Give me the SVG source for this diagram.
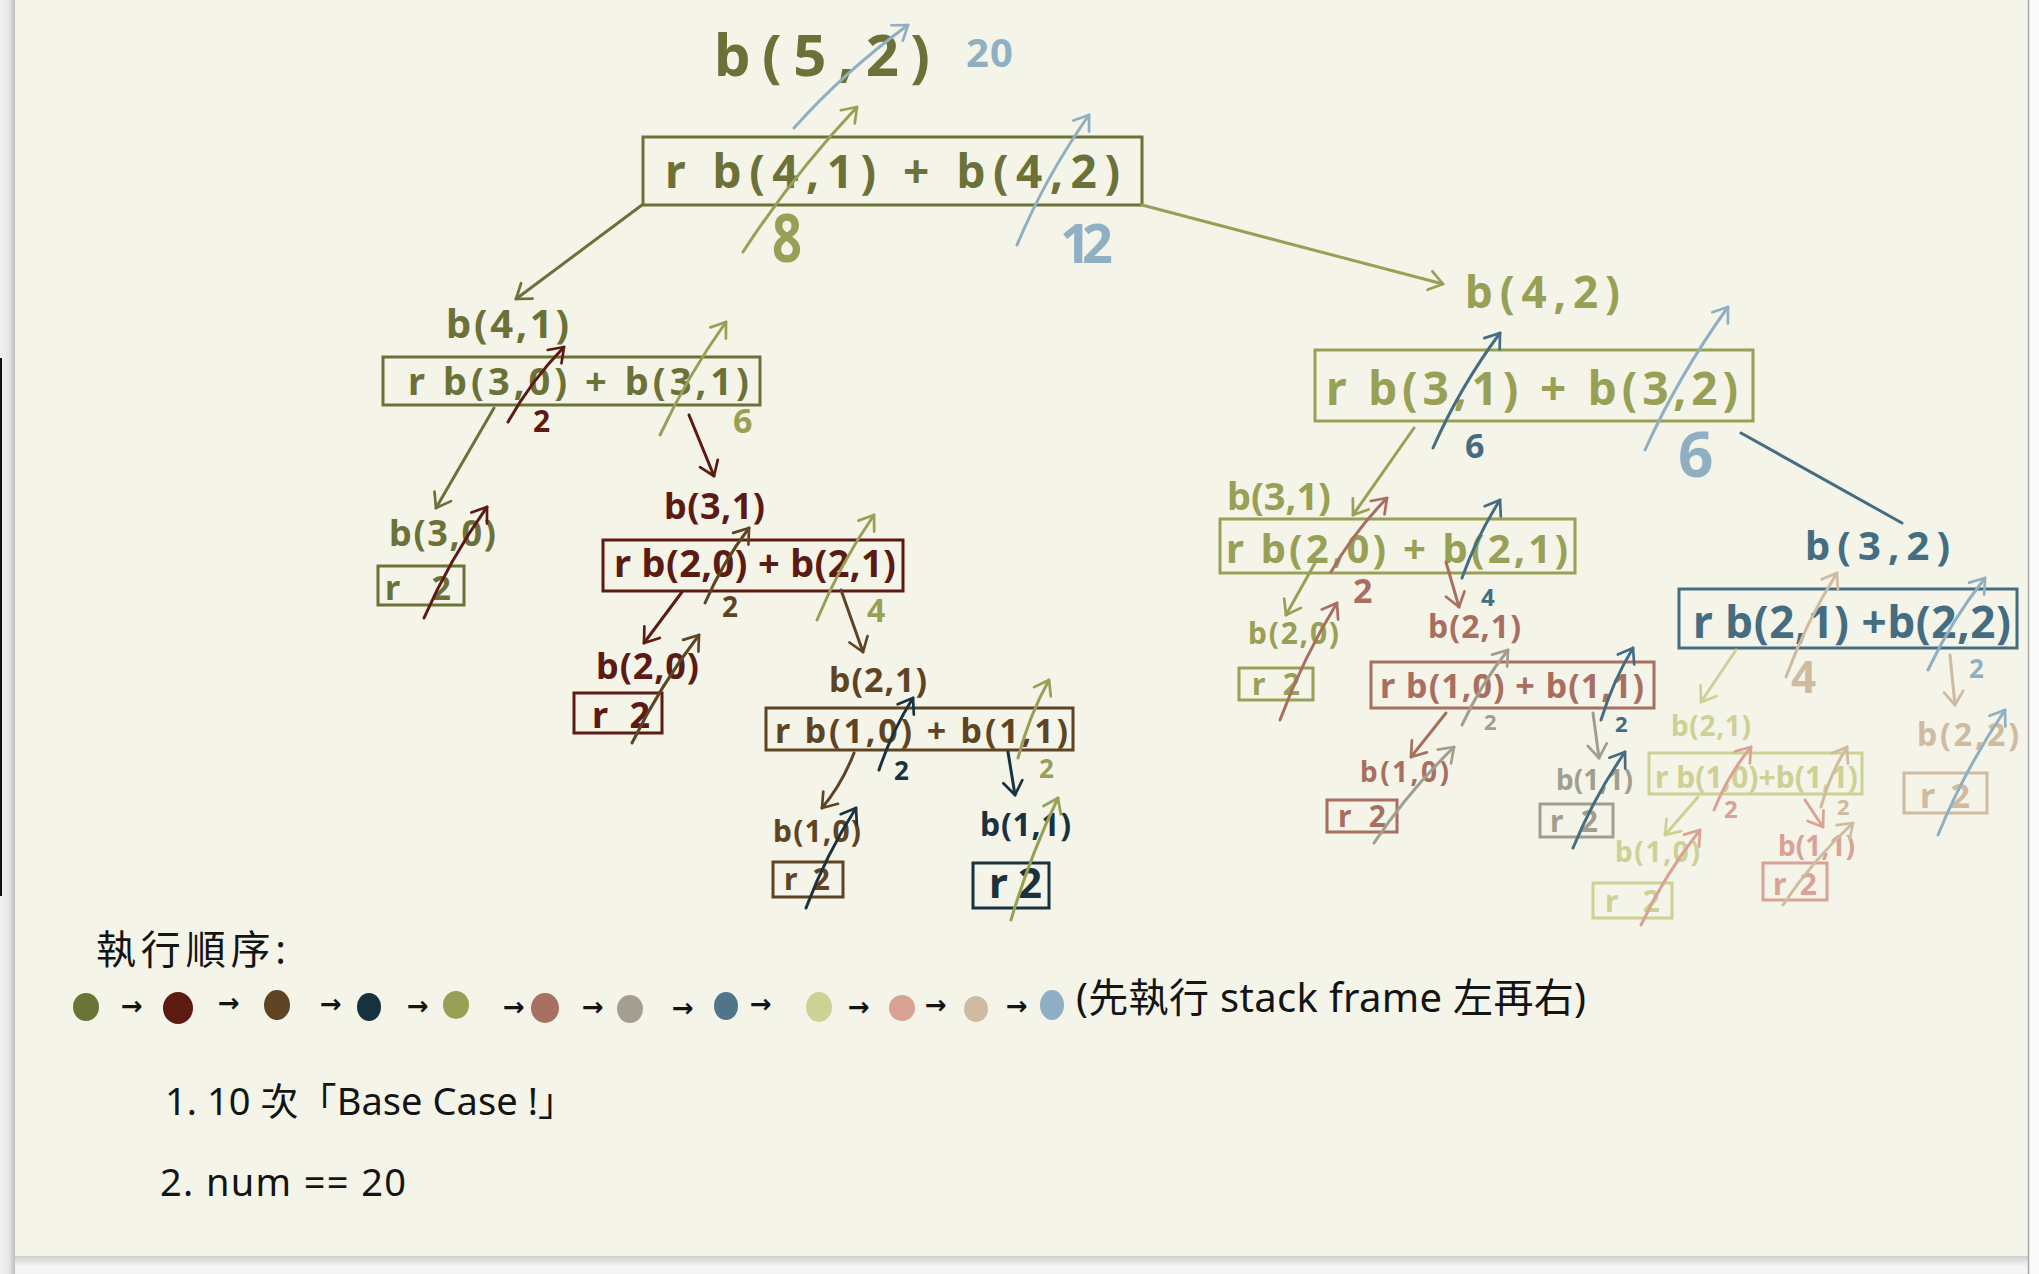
<svg xmlns="http://www.w3.org/2000/svg" width="2039" height="1274" viewBox="0 0 2039 1274">
<defs>
<linearGradient id="lshadow" x1="0" y1="0" x2="1" y2="0">
<stop offset="0" stop-color="#f2f2f2"/><stop offset="0.6" stop-color="#e6e6e6"/><stop offset="1" stop-color="#bdbdbd"/>
</linearGradient>
<linearGradient id="bshadow" x1="0" y1="0" x2="0" y2="1">
<stop offset="0" stop-color="#cfcfcf"/><stop offset="1" stop-color="#f4f4f4"/>
</linearGradient>
<marker id="m1" viewBox="-6 -5 7 10" markerWidth="7" markerHeight="10" refX="0" refY="0" orient="auto" markerUnits="strokeWidth" overflow="visible"><path d="M-4.5,-3.2 L0,0 L-4.5,3.2" fill="none" stroke="#6b7137" stroke-width="0.9" stroke-linecap="round" stroke-linejoin="round"/></marker>
<marker id="m2" viewBox="-6 -5 7 10" markerWidth="7" markerHeight="10" refX="0" refY="0" orient="auto" markerUnits="strokeWidth" overflow="visible"><path d="M-4.5,-3.2 L0,0 L-4.5,3.2" fill="none" stroke="#5c1b12" stroke-width="0.9" stroke-linecap="round" stroke-linejoin="round"/></marker>
<marker id="m3" viewBox="-6 -5 7 10" markerWidth="7" markerHeight="10" refX="0" refY="0" orient="auto" markerUnits="strokeWidth" overflow="visible"><path d="M-4.5,-3.2 L0,0 L-4.5,3.2" fill="none" stroke="#5f4424" stroke-width="0.9" stroke-linecap="round" stroke-linejoin="round"/></marker>
<marker id="m4" viewBox="-6 -5 7 10" markerWidth="7" markerHeight="10" refX="0" refY="0" orient="auto" markerUnits="strokeWidth" overflow="visible"><path d="M-4.5,-3.2 L0,0 L-4.5,3.2" fill="none" stroke="#19323e" stroke-width="0.9" stroke-linecap="round" stroke-linejoin="round"/></marker>
<marker id="m5" viewBox="-6 -5 7 10" markerWidth="7" markerHeight="10" refX="0" refY="0" orient="auto" markerUnits="strokeWidth" overflow="visible"><path d="M-4.5,-3.2 L0,0 L-4.5,3.2" fill="none" stroke="#98a055" stroke-width="0.9" stroke-linecap="round" stroke-linejoin="round"/></marker>
<marker id="m6" viewBox="-6 -5 7 10" markerWidth="7" markerHeight="10" refX="0" refY="0" orient="auto" markerUnits="strokeWidth" overflow="visible"><path d="M-4.5,-3.2 L0,0 L-4.5,3.2" fill="none" stroke="#a86f60" stroke-width="0.9" stroke-linecap="round" stroke-linejoin="round"/></marker>
<marker id="m7" viewBox="-6 -5 7 10" markerWidth="7" markerHeight="10" refX="0" refY="0" orient="auto" markerUnits="strokeWidth" overflow="visible"><path d="M-4.5,-3.2 L0,0 L-4.5,3.2" fill="none" stroke="#a29e8e" stroke-width="0.9" stroke-linecap="round" stroke-linejoin="round"/></marker>
<marker id="m8" viewBox="-6 -5 7 10" markerWidth="7" markerHeight="10" refX="0" refY="0" orient="auto" markerUnits="strokeWidth" overflow="visible"><path d="M-4.5,-3.2 L0,0 L-4.5,3.2" fill="none" stroke="#456d82" stroke-width="0.9" stroke-linecap="round" stroke-linejoin="round"/></marker>
<marker id="m9" viewBox="-6 -5 7 10" markerWidth="7" markerHeight="10" refX="0" refY="0" orient="auto" markerUnits="strokeWidth" overflow="visible"><path d="M-4.5,-3.2 L0,0 L-4.5,3.2" fill="none" stroke="#cdd194" stroke-width="0.9" stroke-linecap="round" stroke-linejoin="round"/></marker>
<marker id="m10" viewBox="-6 -5 7 10" markerWidth="7" markerHeight="10" refX="0" refY="0" orient="auto" markerUnits="strokeWidth" overflow="visible"><path d="M-4.5,-3.2 L0,0 L-4.5,3.2" fill="none" stroke="#d9a294" stroke-width="0.9" stroke-linecap="round" stroke-linejoin="round"/></marker>
<marker id="m11" viewBox="-6 -5 7 10" markerWidth="7" markerHeight="10" refX="0" refY="0" orient="auto" markerUnits="strokeWidth" overflow="visible"><path d="M-4.5,-3.2 L0,0 L-4.5,3.2" fill="none" stroke="#cebba0" stroke-width="0.9" stroke-linecap="round" stroke-linejoin="round"/></marker>
<marker id="m12" viewBox="-6 -5 7 10" markerWidth="7" markerHeight="10" refX="0" refY="0" orient="auto" markerUnits="strokeWidth" overflow="visible"><path d="M-4.5,-3.2 L0,0 L-4.5,3.2" fill="none" stroke="#8fb0c3" stroke-width="0.9" stroke-linecap="round" stroke-linejoin="round"/></marker>
</defs>
<style>
text{font-family:"Noto Sans","Noto Sans CJK TC",sans-serif;font-weight:700}
rect.b{fill:none;stroke-width:3}
#connectors path{fill:none;stroke-linecap:round;stroke-width:3}
.g1 text{fill:#6b7137}.g1 rect{stroke:#6b7137}
.g2 text{fill:#5c1b12}.g2 rect{stroke:#5c1b12}
.g3 text{fill:#5f4424}.g3 rect{stroke:#5f4424}
.g4 text{fill:#19323e}.g4 rect{stroke:#19323e}
.g5 text{fill:#98a055}.g5 rect{stroke:#98a055}
.g6 text{fill:#a86f60}.g6 rect{stroke:#a86f60}
.g7 text{fill:#a29e8e}.g7 rect{stroke:#a29e8e}
.g8 text{fill:#456d82}.g8 rect{stroke:#456d82}
.g9 text{fill:#cdd194}.g9 rect{stroke:#cdd194}
.g10 text{fill:#d9a294}.g10 rect{stroke:#d9a294}
.g11 text{fill:#cebba0}.g11 rect{stroke:#cebba0}
.g12 text{fill:#8fb0c3}.g12 rect{stroke:#8fb0c3}
.e1{stroke:#6b7137;marker-end:url(#m1)}
.e2{stroke:#5c1b12;marker-end:url(#m2)}
.e3{stroke:#5f4424;marker-end:url(#m3)}
.e4{stroke:#19323e;marker-end:url(#m4)}
.e5{stroke:#98a055;marker-end:url(#m5)}
.e6{stroke:#a86f60;marker-end:url(#m6)}
.e7{stroke:#a29e8e;marker-end:url(#m7)}
.e8{stroke:#456d82;marker-end:url(#m8)}
.e9{stroke:#cdd194;marker-end:url(#m9)}
.e10{stroke:#d9a294;marker-end:url(#m10)}
.e11{stroke:#cebba0;marker-end:url(#m11)}
.e12{stroke:#8fb0c3;marker-end:url(#m12)}
.v1{fill:#6b7137}.v2{fill:#5c1b12}.v3{fill:#5f4424}.v4{fill:#19323e}.v5{fill:#98a055}.v6{fill:#a86f60}
.v7{fill:#a29e8e}.v8{fill:#456d82}.v9{fill:#cdd194}.v10{fill:#d9a294}.v11{fill:#cebba0}.v12{fill:#8fb0c3}
#legend text{fill:#141414;font-weight:400}
#legend .ar{font-family:"DejaVu Sans",sans-serif;font-size:26px;font-weight:700}
</style>

<!-- page -->
<rect x="0" y="0" width="2039" height="1274" fill="#f5f5f5"/>
<rect x="0" y="0" width="15" height="1274" fill="url(#lshadow)"/>
<rect x="15" y="1256" width="2013" height="10" fill="url(#bshadow)"/>
<rect x="15" y="0" width="2013" height="1256" fill="#f4f4e9"/>
<rect x="2028" y="0" width="11" height="1274" fill="#f9f9f9"/>
<line x1="2028.5" y1="0" x2="2028.5" y2="1274" stroke="#a9a9a9" stroke-width="1.5"/>
<rect x="0" y="358" width="2" height="538" fill="#111"/>

<!-- nodes -->
<g id="node-b52" class="g1">
<text x="714" y="76" font-size="58" textLength="216" lengthAdjust="spacing">b(5,2)</text>
<rect class="b" x="643" y="137" width="499" height="68" stroke-width="4"/>
<text x="665" y="188" font-size="46" textLength="455" lengthAdjust="spacing">r b(4,1) + b(4,2)</text>
</g>
<g id="node-b41" class="g1">
<text x="446" y="338" font-size="40" textLength="123" lengthAdjust="spacing">b(4,1)</text>
<rect class="b" x="383" y="357" width="377" height="48"/>
<text x="408" y="395" font-size="38" textLength="341" lengthAdjust="spacing">r b(3,0) + b(3,1)</text>
</g>
<g id="node-b30" class="g1">
<text x="389" y="546" font-size="36" textLength="107" lengthAdjust="spacing">b(3,0)</text>
<rect class="b" x="378" y="566" width="86" height="39"/>
<text x="385" y="600" font-size="34" textLength="66" lengthAdjust="spacing">r 2</text>
</g>
<g id="node-b31-left" class="g2">
<text x="664" y="519" font-size="36" textLength="101" lengthAdjust="spacing">b(3,1)</text>
<rect class="b" x="603" y="540" width="300" height="51"/>
<text x="614" y="577" font-size="38" textLength="282" lengthAdjust="spacing">r b(2,0) + b(2,1)</text>
</g>
<g id="node-b20-left" class="g2">
<text x="596" y="679" font-size="36" textLength="103" lengthAdjust="spacing">b(2,0)</text>
<rect class="b" x="574" y="693" width="88" height="40"/>
<text x="592" y="728" font-size="36" textLength="58" lengthAdjust="spacing">r 2</text>
</g>
<g id="node-b21-left" class="g3">
<text x="829" y="692" font-size="34" textLength="98" lengthAdjust="spacing">b(2,1)</text>
<rect class="b" x="766" y="708" width="307" height="42"/>
<text x="775" y="743" font-size="34" textLength="293" lengthAdjust="spacing">r b(1,0) + b(1,1)</text>
</g>
<g id="node-b10-left" class="g3">
<text x="773" y="842" font-size="30" textLength="88" lengthAdjust="spacing">b(1,0)</text>
<rect class="b" x="773" y="862" width="70" height="35"/>
<text x="784" y="890" font-size="30" textLength="46" lengthAdjust="spacing">r2</text>
</g>
<g id="node-b11-left" class="g4">
<text x="980" y="836" font-size="32" textLength="91" lengthAdjust="spacing">b(1,1)</text>
<rect class="b" x="973" y="863" width="76" height="45" stroke-width="4"/>
<text x="989" y="898" font-size="42" textLength="53" lengthAdjust="spacing">r2</text>
</g>
<g id="node-b42" class="g5">
<text x="1465" y="308" font-size="44" textLength="155" lengthAdjust="spacing">b(4,2)</text>
<rect class="b" x="1315" y="350" width="438" height="71"/>
<text x="1326" y="405" font-size="46" textLength="412" lengthAdjust="spacing">r b(3,1) + b(3,2)</text>
</g>
<g id="node-b31-right" class="g5">
<text x="1227" y="510" font-size="38" textLength="104" lengthAdjust="spacing">b(3,1)</text>
<rect class="b" x="1220" y="519" width="355" height="54"/>
<text x="1226" y="563" font-size="40" textLength="342" lengthAdjust="spacing">r b(2,0) + b(2,1)</text>
</g>
<g id="node-b20-right" class="g5">
<text x="1248" y="644" font-size="30" textLength="91" lengthAdjust="spacing">b(2,0)</text>
<rect class="b" x="1239" y="668" width="74" height="32"/>
<text x="1252" y="695" font-size="30" textLength="48" lengthAdjust="spacing">r 2</text>
</g>
<g id="node-b21-mid" class="g6">
<text x="1428" y="638" font-size="32" textLength="93" lengthAdjust="spacing">b(2,1)</text>
<rect class="b" x="1371" y="662" width="283" height="46"/>
<text x="1380" y="698" font-size="34" textLength="264" lengthAdjust="spacing">r b(1,0) + b(1,1)</text>
</g>
<g id="node-b10-mid" class="g6">
<text x="1360" y="782" font-size="28" textLength="89" lengthAdjust="spacing">b(1,0)</text>
<rect class="b" x="1327" y="800" width="70" height="32"/>
<text x="1338" y="827" font-size="30" textLength="48" lengthAdjust="spacing">r 2</text>
</g>
<g id="node-b11-mid" class="g7">
<text x="1556" y="790" font-size="28" textLength="77" lengthAdjust="spacing">b(1,1)</text>
<rect class="b" x="1540" y="804" width="73" height="33"/>
<text x="1550" y="832" font-size="30" textLength="48" lengthAdjust="spacing">r2</text>
</g>
<g id="node-b32" class="g8">
<text x="1805" y="560" font-size="40" textLength="145" lengthAdjust="spacing">b(3,2)</text>
<rect class="b" x="1679" y="589" width="338" height="59" stroke-width="5"/>
<text x="1693" y="638" font-size="44" textLength="318" lengthAdjust="spacing">r b(2,1) +b(2,2)</text>
</g>
<g id="node-b21-right" class="g9">
<text x="1671" y="736" font-size="28" textLength="80" lengthAdjust="spacing">b(2,1)</text>
<rect class="b" x="1649" y="753" width="213" height="41"/>
<text x="1655" y="788" font-size="30" textLength="203" lengthAdjust="spacing">r b(1,0)+b(1,1)</text>
</g>
<g id="node-b10-right" class="g9">
<text x="1615" y="862" font-size="28" textLength="85" lengthAdjust="spacing">b(1,0)</text>
<rect class="b" x="1593" y="883" width="79" height="35"/>
<text x="1605" y="912" font-size="30" textLength="55" lengthAdjust="spacing">r 2</text>
</g>
<g id="node-b11-right" class="g10">
<text x="1778" y="856" font-size="28" textLength="77" lengthAdjust="spacing">b(1,1)</text>
<rect class="b" x="1763" y="863" width="64" height="37"/>
<text x="1773" y="895" font-size="30" textLength="44" lengthAdjust="spacing">r2</text>
</g>
<g id="node-b22" class="g11">
<text x="1917" y="746" font-size="32" textLength="102" lengthAdjust="spacing">b(2,2)</text>
<rect class="b" x="1904" y="773" width="83" height="40"/>
<text x="1920" y="808" font-size="34" textLength="50" lengthAdjust="spacing">r2</text>
</g>

<!-- connectors: calls and returns -->
<g id="connectors">
<path class="e1" d="M642,205 L516,299"/>
<path class="e5" d="M1142,205 L1443,284" stroke-width="3.5"/>
<path class="e1" d="M494,408 L436,508"/>
<path class="e2" d="M689,415 L714,476"/>
<path class="e2" d="M682,592 L644,643"/>
<path class="e3" d="M841,590 L863,652"/>
<path class="e3" d="M854,753 Q842,784 822,808" stroke-width="3.5"/>
<path class="e4" d="M1008,752 L1015,795"/>
<path class="e5" d="M1414,428 L1353,515"/>
<path d="M1741,433 L1902,523" stroke="#456d82" stroke-width="4"/>
<path class="e5" d="M1315,563 L1286,615"/>
<path class="e6" d="M1446,562 L1459,607"/>
<path class="e6" d="M1446,713 L1411,757"/>
<path class="e7" d="M1593,713 L1599,758"/>
<path class="e9" d="M1736,650 L1701,702"/>
<path class="e11" d="M1950,655 L1955,705" stroke-width="4"/>
<path class="e9" d="M1698,797 L1665,835"/>
<path class="e10" d="M1805,800 L1823,827"/>

<path class="e12" d="M794,128 Q844,72 908,25" stroke-width="4"/>
<path class="e5" d="M743,252 Q793,175 857,107" stroke-width="4"/>
<path class="e12" d="M1017,245 Q1046,176 1089,115" stroke-width="4"/>
<path class="e2" d="M508,422 Q531,381 564,347"/>
<path class="e5" d="M660,435 Q688,375 726,322"/>
<path class="e2" d="M424,618 Q450,559 487,507"/>
<path class="e3" d="M705,603 Q723,562 749,528"/>
<path class="e5" d="M817,620 Q840,564 874,515"/>
<path class="e3" d="M632,743 Q660,686 699,635"/>
<path class="e4" d="M879,770 Q892,731 913,698" stroke-width="3.5"/>
<path class="e5" d="M1018,758 Q1029,716 1049,680"/>
<path class="e4" d="M806,908 Q826,855 856,808" stroke-width="3.5"/>
<path class="e5" d="M1011,920 Q1030,856 1058,798"/>
<path class="e8" d="M1433,448 Q1460,387 1500,333" stroke-width="5"/>
<path class="e12" d="M1645,450 Q1679,375 1728,307" stroke-width="4"/>
<path class="e6" d="M1331,572 Q1354,532 1387,498"/>
<path class="e8" d="M1462,578 Q1477,536 1500,500"/>
<path class="e6" d="M1280,720 Q1303,658 1337,603"/>
<path class="e7" d="M1462,725 Q1481,684 1508,650" stroke-width="2.5"/>
<path class="e8" d="M1601,720 Q1613,681 1633,648" stroke-width="3.5"/>
<path class="e7" d="M1374,843 Q1408,792 1454,747" stroke-width="2.5"/>
<path class="e8" d="M1573,848 Q1594,797 1625,752" stroke-width="3.5"/>
<path class="e11" d="M1786,677 Q1806,622 1837,573" stroke-width="4"/>
<path class="e12" d="M1928,670 Q1951,621 1985,578" stroke-width="3.5"/>
<path class="e10" d="M1714,810 Q1728,775 1751,747"/>
<path class="e11" d="M1821,807 Q1830,774 1847,747" stroke-width="2.5"/>
<path class="e10" d="M1641,925 Q1665,874 1700,830"/>
<path class="e11" d="M1783,905 Q1812,861 1853,823" stroke-width="2.5"/>
<path class="e12" d="M1938,835 Q1965,769 2005,710" stroke-width="4"/>
</g>

<!-- return values -->
<g id="return-values">
<text class="v12" x="966" y="67" font-size="40" textLength="47" lengthAdjust="spacing">20</text>
<text class="v5" x="772" y="262" font-size="66" textLength="30" lengthAdjust="spacingAndGlyphs">8</text>
<text class="v12" x="1060" y="263" font-size="54" textLength="53" lengthAdjust="spacing">12</text>
<text class="v2" x="533" y="432" font-size="30">2</text>
<text class="v5" x="733" y="433" font-size="34">6</text>
<text class="v3" x="722" y="617" font-size="28">2</text>
<text class="v5" x="867" y="622" font-size="32">4</text>
<text class="v4" x="894" y="780" font-size="26">2</text>
<text class="v5" x="1039" y="778" font-size="26">2</text>
<text class="v8" x="1465" y="458" font-size="34" font-weight="400">6</text>
<text class="v12" x="1678" y="477" font-size="62">6</text>
<text class="v6" x="1353" y="603" font-size="34">2</text>
<text class="v8" x="1481" y="606" font-size="24">4</text>
<text class="v7" x="1484" y="730" font-size="22">2</text>
<text class="v8" x="1615" y="732" font-size="22">2</text>
<text class="v11" x="1791" y="693" font-size="44">4</text>
<text class="v12" x="1969" y="678" font-size="26">2</text>
<text class="v10" x="1724" y="818" font-size="24">2</text>
<text class="v11" x="1837" y="815" font-size="22">2</text>
</g>

<!-- legend -->
<g id="legend">
<text x="96" y="964" font-size="40" textLength="190" lengthAdjust="spacing">執行順序:</text>
<ellipse cx="86" cy="1007" rx="13" ry="14" fill="#6b7437"/>
<ellipse cx="178" cy="1008" rx="15" ry="16" fill="#5c1a10"/>
<ellipse cx="277" cy="1005" rx="13" ry="15" fill="#5e4423"/>
<ellipse cx="369" cy="1007" rx="12" ry="14" fill="#17323d"/>
<ellipse cx="456" cy="1005" rx="13" ry="14" fill="#98a055"/>
<ellipse cx="545" cy="1008" rx="14" ry="15" fill="#a87060"/>
<ellipse cx="630" cy="1009" rx="13" ry="14" fill="#a39e8e"/>
<ellipse cx="726" cy="1006" rx="12" ry="14" fill="#4e7589"/>
<ellipse cx="819" cy="1007" rx="13" ry="15" fill="#cdd194"/>
<ellipse cx="902" cy="1008" rx="13" ry="13" fill="#d9a295"/>
<ellipse cx="976" cy="1009" rx="12" ry="13" fill="#cfbca0"/>
<ellipse cx="1052" cy="1005" rx="12" ry="15" fill="#8fb0c4"/>
<text class="ar" x="132" y="1015" text-anchor="middle">→</text>
<text class="ar" x="229" y="1012" text-anchor="middle">→</text>
<text class="ar" x="331" y="1013" text-anchor="middle">→</text>
<text class="ar" x="418" y="1015" text-anchor="middle">→</text>
<text class="ar" x="514" y="1016" text-anchor="middle">→</text>
<text class="ar" x="593" y="1016" text-anchor="middle">→</text>
<text class="ar" x="683" y="1017" text-anchor="middle">→</text>
<text class="ar" x="761" y="1013" text-anchor="middle">→</text>
<text class="ar" x="859" y="1016" text-anchor="middle">→</text>
<text class="ar" x="936" y="1014" text-anchor="middle">→</text>
<text class="ar" x="1017" y="1015" text-anchor="middle">→</text>
<text x="1076" y="1012" font-size="40" textLength="510" lengthAdjust="spacing">(先執行 stack frame 左再右)</text>
<text x="165" y="1115" font-size="38" textLength="411" lengthAdjust="spacing">1. 10 次「Base Case !」</text>
<text x="160" y="1196" font-size="38" textLength="246" lengthAdjust="spacing">2. num == 20</text>
</g>
</svg>
